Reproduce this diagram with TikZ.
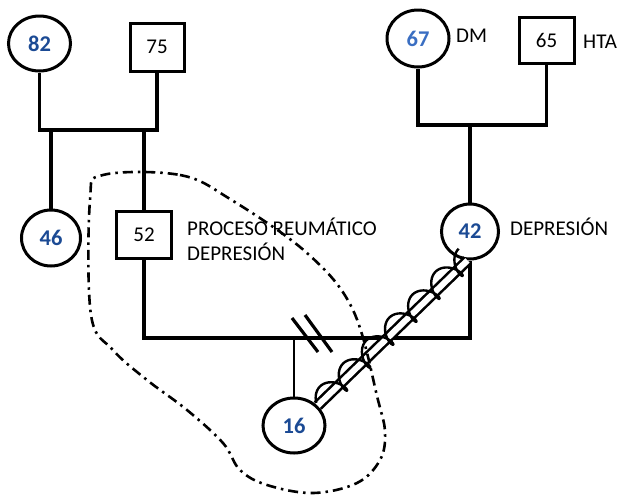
\documentclass[tikz,border=0pt]{standalone}
\usepackage{fontspec}
\setmainfont{Carlito}
\usetikzlibrary{shapes.geometric}
\definecolor{numblue}{HTML}{1B4A94}
\definecolor{numlight}{HTML}{3A6EC2}
\begin{document}
\begin{tikzpicture}[x=1pt,y=-1pt,
  female/.style={draw,ellipse,line width=3pt,inner sep=0pt,
    font=\fontsize{22.5}{24}\selectfont\bfseries,text=numblue},
  male/.style={draw,rectangle,line width=3pt,inner sep=0pt,
    font=\fontsize{21}{24}\selectfont},
  note/.style={anchor=base west,inner sep=0pt,align=left,
    font=\fontsize{21}{25}\selectfont},
  link/.style={line width=3.2pt},
  childlink/.style={line width=2.8pt},
  conflict/.style={line width=2.6pt,double,double distance=6pt},
  wave/.style={line width=2.4pt,line join=round},
  household/.style={line width=2.6pt,dash pattern=on 10pt off 5pt on 2.5pt off 5pt}]
\useasboundingbox (0,0) rectangle (618,496);

% grandparents
\node[female,minimum width=62pt,minimum height=55pt] (f82) at (39.5,43.5) {82};
\node[male,minimum width=54pt,minimum height=48pt] (m75) at (157,47) {75};
\node[female,minimum width=62pt,minimum height=57pt,text=numlight] (f67) at (418,38.5) {67};
\node[male,minimum width=55pt,minimum height=46pt] (m65) at (546.5,40) {65};

% parents and aunt
\node[female,minimum width=59pt,minimum height=56pt] (f46) at (51,238) {46};
\node[male,minimum width=55pt,minimum height=47pt] (m52) at (144,234.5) {52};
\node[female,minimum width=57pt,minimum height=55pt] (f42) at (470,231.5) {42};

% index child
\node[female,minimum width=62pt,minimum height=55pt] (f16) at (294,425.5) {16};

% conditions
\node[note] (tdm) at (456,42) {DM};
\node[note] (thta) at (583,48) {HTA};
\node[note] (t52) at (187,260) {PROCESO REUMÁTICO\\DEPRESIÓN};
\node[note] (t42) at (510,235) {DEPRESIÓN};

% marriage and descent lines
\coordinate (sibL) at (0,130);
\coordinate (sibR) at (0,125);
\coordinate (mar) at (0,338);
\draw[link] (f82.south) -- (f82.south |- sibL) -- (m75.south |- sibL) -- (m75.south);
\draw[link] (f46.north) -- (f46.north |- sibL);
\draw[link] (m52.north) -- (m52.north |- sibL);
\draw[link] (f67.south) -- (f67.south |- sibR) -- (m65.south |- sibR) -- (m65.south);
\draw[link] (f42.north) -- (f42.north |- sibR);
\draw[link] (m52.south) -- (m52.south |- mar) -- (f42.south |- mar) -- (f42.south);
\draw[childlink] (f16.north) -- (f16.north |- mar);

% separation marks
\draw[link] (292,318) -- (318,352);
\draw[link] (305,315) -- (332,352);

% conflictive relationship: double line wrapped by a looping wave
\draw[conflict] (f16.40) -- (f42.265);
\begin{scope}[shift={(f16.40)},rotate=44.8]
  \draw[wave] plot[smooth,domain=10:2250,samples=200]
    ({0.0905*\x + 7*(1-cos(\x))},{-(1+11*sin(\x))});
\end{scope}

% household boundary
\draw[household] plot[smooth cycle,tension=0.6] coordinates {
  (103,175) (180,175) (230,199) (307,253) (353,310) (378,400) (385,433)
  (380,460) (357,483) (313,493) (267,485) (240,470) (223,443) (187,410)
  (147,380) (113,350) (91,315) (90,200)};
\end{tikzpicture}
\end{document}
